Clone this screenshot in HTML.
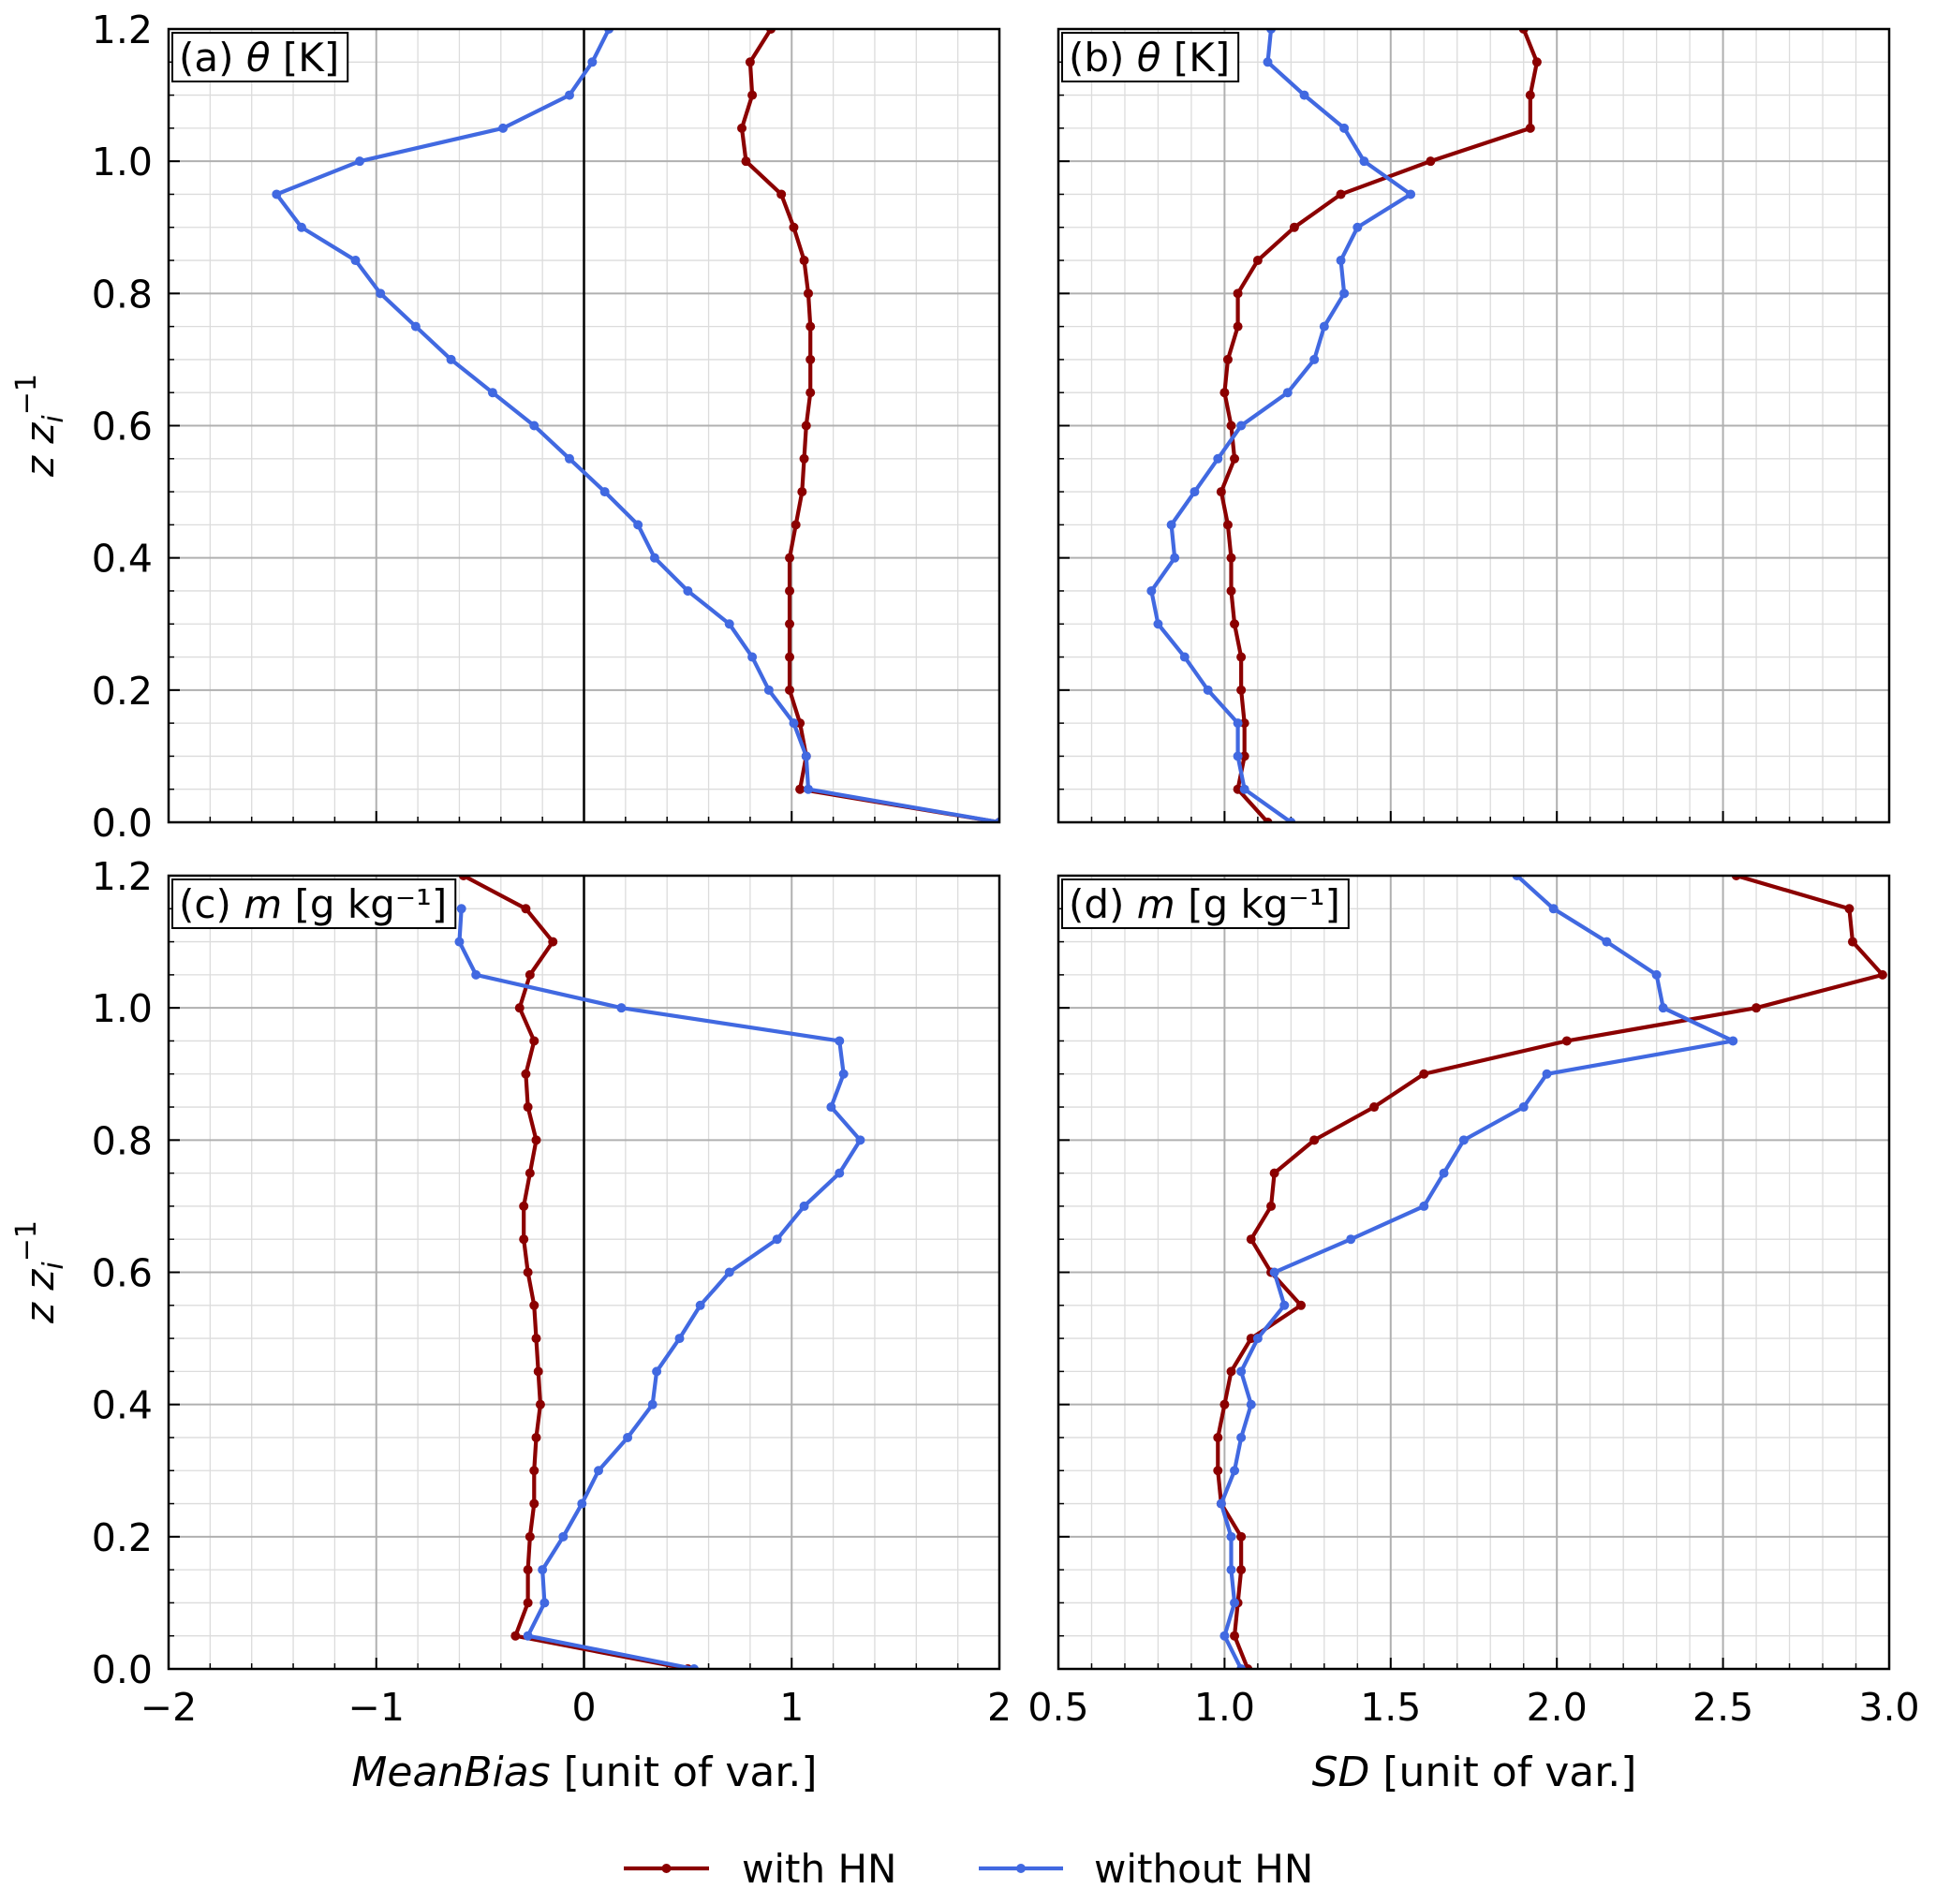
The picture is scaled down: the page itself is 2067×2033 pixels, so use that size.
<!DOCTYPE html>
<html><head><meta charset="utf-8"><style>
html,body{margin:0;padding:0;background:#fff;}
svg text{font-family:"DejaVu Sans","Liberation Sans",sans-serif;fill:#000;}
</style></head><body>
<svg id="fig" width="2067" height="2028" viewBox="0 0 2067 2028" xmlns="http://www.w3.org/2000/svg"></svg>
<script>
const levels=[0,0.05,0.1,0.15,0.2,0.25,0.3,0.35,0.4,0.45,0.5,0.55,0.6,0.65,0.7,0.75,0.8,0.85,0.9,0.95,1.0,1.05,1.1,1.15,1.2];
const aWith=[2.0,1.04,1.07,1.04,0.99,0.99,0.99,0.99,0.99,1.02,1.05,1.06,1.07,1.09,1.09,1.09,1.08,1.06,1.01,0.95,0.78,0.76,0.81,0.80,0.90];
const aWithout=[2.0,1.08,1.07,1.01,0.89,0.81,0.70,0.50,0.34,0.26,0.10,-0.07,-0.24,-0.44,-0.64,-0.81,-0.98,-1.10,-1.36,-1.48,-1.08,-0.39,-0.07,0.04,0.12];
const bWith=[1.13,1.04,1.06,1.06,1.05,1.05,1.03,1.02,1.02,1.01,0.99,1.03,1.02,1.00,1.01,1.04,1.04,1.10,1.21,1.35,1.62,1.92,1.92,1.94,1.90];
const bWithout=[1.20,1.06,1.04,1.04,0.95,0.88,0.80,0.78,0.85,0.84,0.91,0.98,1.05,1.19,1.27,1.30,1.36,1.35,1.40,1.56,1.42,1.36,1.24,1.13,1.14];
const cWith=[0.50,-0.33,-0.27,-0.27,-0.26,-0.24,-0.24,-0.23,-0.21,-0.22,-0.23,-0.24,-0.27,-0.29,-0.29,-0.26,-0.23,-0.27,-0.28,-0.24,-0.31,-0.26,-0.15,-0.28,-0.58];
const cWithout=[0.53,-0.27,-0.19,-0.20,-0.10,-0.01,0.07,0.21,0.33,0.35,0.46,0.56,0.70,0.93,1.06,1.23,1.33,1.19,1.25,1.23,0.18,-0.52,-0.60,-0.59,null];
const dWith=[1.07,1.03,1.04,1.05,1.05,0.99,0.98,0.98,1.00,1.02,1.08,1.23,1.14,1.08,1.14,1.15,1.27,1.45,1.60,2.03,2.60,2.98,2.89,2.88,2.54];
const dWithout=[1.05,1.00,1.03,1.02,1.02,0.99,1.03,1.05,1.08,1.05,1.10,1.18,1.15,1.38,1.60,1.66,1.72,1.90,1.97,2.53,2.32,2.30,2.15,1.99,1.88];
const yTicks=["0.0","0.2","0.4","0.6","0.8","1.0","1.2"];
const xTicksMB=["\u22122","\u22121","0","1","2"];
const xTicksSD=["0.5","1.0","1.5","2.0","2.5","3.0"];

const NS="http://www.w3.org/2000/svg";
const svg=document.getElementById('fig');
function mk(tag,attrs,parent){const e=document.createElementNS(NS,tag);for(const k in attrs)e.setAttribute(k,attrs[k]);(parent||svg).appendChild(e);return e;}
const RED="#8b0000",BLUE="#4169e1";
const panels=[
 {id:'a',x0:180,x1:1067,y0:31,y1:878,xmin:-2,xmax:2,xmaj:1,xmin_step:0.2,label:'(a) ',var:'\u03b8',unit:' [K]',w:aWith,wo:aWithout,zero:true,ylab:true,xlab:false,xt:xTicksMB},
 {id:'b',x0:1130,x1:2017,y0:31,y1:878,xmin:0.5,xmax:3.0,xmaj:0.5,xmin_step:0.1,label:'(b) ',var:'\u03b8',unit:' [K]',w:bWith,wo:bWithout,zero:false,ylab:false,xlab:false,xt:xTicksSD},
 {id:'c',x0:180,x1:1067,y0:935,y1:1782,xmin:-2,xmax:2,xmaj:1,xmin_step:0.2,label:'(c) ',var:'m',unit:' [g kg\u207b\u00b9]',w:cWith,wo:cWithout,zero:true,ylab:true,xlab:true,xt:xTicksMB},
 {id:'d',x0:1130,x1:2017,y0:935,y1:1782,xmin:0.5,xmax:3.0,xmaj:0.5,xmin_step:0.1,label:'(d) ',var:'m',unit:' [g kg\u207b\u00b9]',w:dWith,wo:dWithout,zero:false,ylab:false,xlab:true,xt:xTicksSD}
];
panels.forEach(p=>{
 const g=mk('g',{});
 
 
 const X=v=>p.x0+(v-p.xmin)/(p.xmax-p.xmin)*(p.x1-p.x0);
 const Y=v=>p.y1-v/1.2*(p.y1-p.y0);
 const cp=mk('clipPath',{id:'clip'+p.id},g);
 mk('rect',{x:p.x0,y:p.y0,width:p.x1-p.x0,height:p.y1-p.y0},cp);
 const nx=Math.round((p.xmax-p.xmin)/p.xmin_step);
 for(let i=1;i<nx;i++){const v=p.xmin+i*p.xmin_step;mk('line',{x1:X(v),x2:X(v),y1:p.y0,y2:p.y1,stroke:'#dcdcdc','stroke-width':1.3},g);
  mk('line',{x1:X(v),x2:X(v),y1:p.y1,y2:p.y1-6,stroke:'#000','stroke-width':1.5},g);}
 for(let i=1;i<24;i++){const v=i*0.05;mk('line',{x1:p.x0,x2:p.x1,y1:Y(v),y2:Y(v),stroke:'#dcdcdc','stroke-width':1.3},g);
  mk('line',{x1:p.x0,x2:p.x0+6,y1:Y(v),y2:Y(v),stroke:'#000','stroke-width':1.5},g);}
 p.xt.forEach((t,i)=>{const v=p.xmin+i*p.xmaj;const x=X(v);
  if(i>0&&i<p.xt.length-1){mk('line',{x1:x,x2:x,y1:p.y0,y2:p.y1,stroke:'#b0b0b0','stroke-width':2},g);
   mk('line',{x1:x,x2:x,y1:p.y1,y2:p.y1-12,stroke:'#000','stroke-width':2},g);}
  if(p.xlab){const tx=mk('text',{x:x,y:1837,'font-size':41,'text-anchor':'middle'},g);tx.textContent=t;
   
   }
 });
 yTicks.forEach((t,i)=>{const v=i*0.2;const y=Y(v);
  if(i>0&&i<yTicks.length-1){mk('line',{x1:p.x0,x2:p.x1,y1:y,y2:y,stroke:'#b0b0b0','stroke-width':2},g);
   mk('line',{x1:p.x0,x2:p.x0+12,y1:y,y2:y,stroke:'#000','stroke-width':2},g);}
  if(p.ylab){const tx=mk('text',{x:163,y:y+15,'font-size':41,'text-anchor':'end'},g);tx.textContent=t;
   
   }
 });
 if(p.zero){mk('line',{x1:X(0),x2:X(0),y1:p.y0,y2:p.y1,stroke:'#000','stroke-width':2.5},g);}
 [[p.w,RED,'with-hn'],[p.wo,BLUE,'without-hn']].forEach(([arr,col,nm])=>{
  const sg=mk('g',{'clip-path':'url(#clip'+p.id+')'},g);
  
  
  let pts=[];arr.forEach((v,i)=>{if(v!==null)pts.push([X(v),Y(levels[i])]);});
  mk('polyline',{points:pts.map(q=>q.join(',')).join(' '),fill:'none',stroke:col,'stroke-width':4.2,'stroke-linejoin':'round'},sg);
  pts.forEach(q=>{const c=mk('circle',{cx:q[0],cy:q[1],r:5,fill:col},sg);
   
   });
 });
 mk('rect',{x:p.x0,y:p.y0,width:p.x1-p.x0,height:p.y1-p.y0,fill:'none',stroke:'#000','stroke-width':2.5},g);
 const lb=mk('g',{},g);
 
 
 const tx=mk('text',{x:p.x0+11,y:p.y0+45,'font-size':42},lb);
 const t1=mk('tspan',{},tx);t1.textContent=p.label;
 const t2=mk('tspan',{'font-style':'italic'},tx);t2.textContent=p.var;
 const t3=mk('tspan',{},tx);t3.textContent=p.unit;
 const bb=tx.getBBox();
 mk('rect',{x:p.x0+4,y:p.y0+4,width:bb.width+16,height:52,fill:'#fff',stroke:'#000','stroke-width':2},lb);
 lb.appendChild(tx);
});
[[454],[1358]].forEach(([cy])=>{
 const t=mk('text',{x:0,y:0,'font-size':42,transform:`translate(57,${cy}) rotate(-90)`,'text-anchor':'middle'});
 
 
 const a=mk('tspan',{'font-style':'italic'},t);a.textContent='z z';
 const b=mk('tspan',{'font-style':'italic','font-size':30,dy:10},t);b.textContent='i';
 const c=mk('tspan',{'font-size':30,dy:-29},t);c.textContent='\u22121';
});
function xt(cx,it,rest,name){const t=mk('text',{x:cx,y:1907,'font-size':44,'text-anchor':'middle'});
 
 
 const a=mk('tspan',{'font-style':'italic'},t);a.textContent=it;const b=mk('tspan',{},t);b.textContent=rest;}
xt(624,'MeanBias',' [unit of var.]','x-axis-title-meanbias');
xt(1574,'SD',' [unit of var.]','x-axis-title-sd');
const lg=mk('g',{});


[[666,757,792,RED,'with HN'],[1045,1135,1168,BLUE,'without HN']].forEach(([a,b,tx0,col,lab])=>{
 const e=mk('g',{},lg);
 
 
 mk('line',{x1:a,x2:b,y1:1995,y2:1995,stroke:col,'stroke-width':4.2},e);
 mk('circle',{cx:(a+b)/2,cy:1995,r:5,fill:col},e);
 const t=mk('text',{x:tx0,y:2010,'font-size':42},e);t.textContent=lab;
});
</script>
</body></html>
